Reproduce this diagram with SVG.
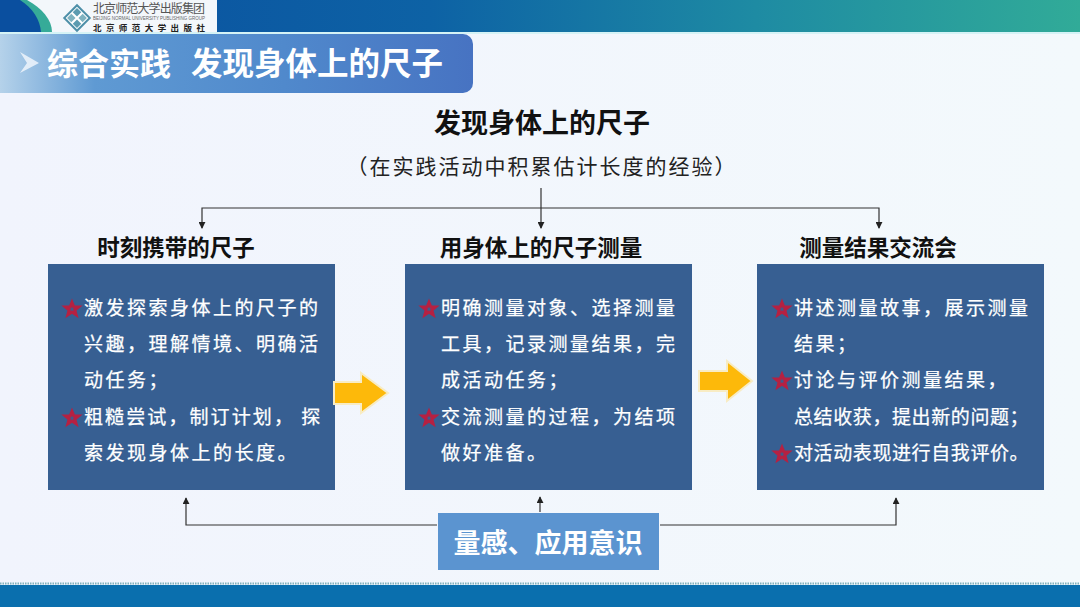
<svg xmlns="http://www.w3.org/2000/svg" width="1080" height="607" viewBox="0 0 1080 607">
<style>
.h{font-family:"Noto Sans CJK SC","Liberation Sans",sans-serif;font-weight:700}
.s{font-family:"Noto Sans CJK SC","Liberation Sans",sans-serif;font-size:19px;fill:#fff;letter-spacing:2.5px;stroke:#fff;stroke-width:.25}
.box{fill:#375f92}
.ln{fill:none;stroke:#333;stroke-width:1.2}
.star{fill:none;stroke:#b52142;stroke-width:3}
.ya{fill:#fdb90a;stroke:#f8ecc4;stroke-width:2}
</style>
<defs>
<linearGradient id="top" x1="0" x2="1" y1="0" y2="0"><stop offset="0" stop-color="#0a4f9f"/><stop offset=".4" stop-color="#0d62a5"/><stop offset=".7" stop-color="#1e8ba3"/><stop offset="1" stop-color="#31ab98"/></linearGradient>
<linearGradient id="tt" x1="0" x2="1" y1="0" y2="0"><stop offset="0" stop-color="#b5d2ea"/><stop offset=".2" stop-color="#5f9ad3"/><stop offset=".6" stop-color="#5089cc"/><stop offset="1" stop-color="#4773c2"/></linearGradient>
<linearGradient id="bg" x1="0" x2="1" y1="0" y2="0"><stop offset="0" stop-color="#f1f4fd"/><stop offset="1" stop-color="#f3f9fc"/></linearGradient>
<polygon id="st" points="0,-6.5 1.8,-2.1 6.5,-2 2.8,1 4.1,5.7 0,3 -4.1,5.7 -2.8,1 -6.5,-2 -1.8,-2.1"/>
<marker id="a" viewBox="0 0 8 8" refX="7" refY="4" markerWidth="7" markerHeight="7" orient="auto" markerUnits="userSpaceOnUse"><path d="M0,0L8,4L0,8Z" fill="#222"/></marker>
</defs>
<rect width="1080" height="607" fill="url(#bg)"/>
<g id="header">
<rect width="1080" height="32" fill="url(#top)"/>
<rect y="32" width="1080" height="2" fill="#d5f3f6"/>
<rect x="0" y="0" width="217" height="32" fill="#f3f7fb"/>
<path d="M0,0H27C42,8 52,20 52,32H0Z" fill="#36ab98"/>
<path d="M0,0H20C33,8 40,20 41,32H0Z" fill="#0a4f9f"/>
<g transform="translate(77,18) rotate(45)"><rect x="-9" y="-9" width="18" height="18" fill="#fff" stroke="#4d8fa8" stroke-width="2"/><rect x="-7" y="-7" width="6" height="6" fill="#5b9bb0"/><rect x="1" y="-7" width="6" height="6" fill="#7fb3c0"/><rect x="-7" y="1" width="6" height="6" fill="#7fb3c0"/><rect x="1" y="1" width="6" height="6" fill="#5b9bb0"/></g>
<text x="93" y="13" font-family="Noto Sans CJK SC,sans-serif" font-size="12" fill="#555" textLength="112">北京师范大学出版集团</text>
<text x="93" y="20" font-family="Liberation Sans,sans-serif" font-size="4.5" fill="#666" textLength="112">BEIJING NORMAL UNIVERSITY PUBLISHING GROUP</text>
<text x="93" y="31" font-family="Noto Sans CJK SC,sans-serif" font-size="8.5" font-weight="700" fill="#222" textLength="112">北京师范大学出版社</text>
</g>
<g id="title">
<path d="M0,34H463a10,10 0 0 1 10,10V83a10,10 0 0 1 -10,10H0Z" fill="url(#tt)"/>
<path d="M20,52L39,63L20,73L27,63Z" fill="#eef5fb" opacity=".85"/>
<text x="47" y="75" class="h" font-size="31" fill="#fff">综合实践</text>
<text x="191" y="75" class="h" font-size="31.5" fill="#fff">发现身体上的尺子</text>
</g>
<g id="heading">
<text x="542" y="133" class="h" font-size="27" fill="#111" text-anchor="middle">发现身体上的尺子</text>
<text x="542" y="174" font-family="Noto Sans CJK SC,sans-serif" font-size="21" fill="#222" text-anchor="middle" style="letter-spacing:2px">（在实践活动中积累估计长度的经验）</text>
</g>
<g id="connectors">
<path class="ln" marker-end="url(#a)" d="M541,188V228"/>
<path class="ln" marker-end="url(#a)" d="M541,208H202V228"/>
<path class="ln" marker-end="url(#a)" d="M541,208H879V228"/>
<path class="ln" marker-end="url(#a)" d="M437,525H186V498"/>
<path class="ln" marker-end="url(#a)" d="M660,525H896V498"/>
<path class="ln" marker-end="url(#a)" d="M540,512V497"/>
</g>
<g id="node1">
<text x="176" y="256" class="h" font-size="22.5" fill="#111" text-anchor="middle">时刻携带的尺子</text>
<rect class="box" x="48" y="264" width="287" height="226"/>
<use href="#st" x="72" y="309" class="star"/><use href="#st" x="72" y="418" class="star"/>
<text class="s" x="84" y="315">激发探索身体上的尺子的</text>
<text class="s" x="84" y="351">兴趣，理解情境、明确活</text>
<text class="s" x="84" y="387">动任务；</text>
<text class="s" x="84" y="424" style="letter-spacing:2.1px">粗糙尝试，制订计划， 探</text>
<text class="s" x="84" y="460">索发现身体上的长度。</text>
</g>
<g id="arrow1"><path class="ya" d="M334,382H361V373L388,393L361,413V404H334Z"/></g>
<g id="node2">
<text x="541" y="256" class="h" font-size="22.5" fill="#111" text-anchor="middle">用身体上的尺子测量</text>
<rect class="box" x="405" y="264" width="287" height="226"/>
<use href="#st" x="429" y="309" class="star"/><use href="#st" x="429" y="418" class="star"/>
<text class="s" x="441" y="315">明确测量对象、选择测量</text>
<text class="s" x="441" y="351">工具，记录测量结果，完</text>
<text class="s" x="441" y="387">成活动任务；</text>
<text class="s" x="441" y="424">交流测量的过程，为结项</text>
<text class="s" x="441" y="460">做好准备。</text>
</g>
<g id="arrow2"><path class="ya" d="M699,371H727V361L752,381L727,401V391H699Z"/></g>
<g id="node3">
<text x="878" y="256" class="h" font-size="22.5" fill="#111" text-anchor="middle">测量结果交流会</text>
<rect class="box" x="757" y="264" width="287" height="226"/>
<use href="#st" x="782" y="309" class="star"/><use href="#st" x="782" y="381" class="star"/><use href="#st" x="782" y="454" class="star"/>
<text class="s" x="794" y="315">讲述测量故事，展示测量</text>
<text class="s" x="794" y="351">结果；</text>
<text class="s" x="794" y="387">讨论与评价测量结果，</text>
<text class="s" x="794" y="424" style="letter-spacing:.6px">总结收获，提出新的问题；</text>
<text class="s" x="794" y="460" style="letter-spacing:.6px">对活动表现进行自我评价。</text>
</g>
<g id="node4">
<rect x="438" y="513" width="221" height="57" fill="#5b94d0"/>
<text x="548" y="553" class="h" font-size="27" fill="#fff" text-anchor="middle">量感、应用意识</text>
</g>
<g id="footer">
<path d="M0,583.500H1080" stroke="#7fb0bc" stroke-width="2" stroke-dasharray="1.500 1"/>
<rect y="585" width="1080" height="22" fill="#0a6fae"/>
</g>
</svg>
